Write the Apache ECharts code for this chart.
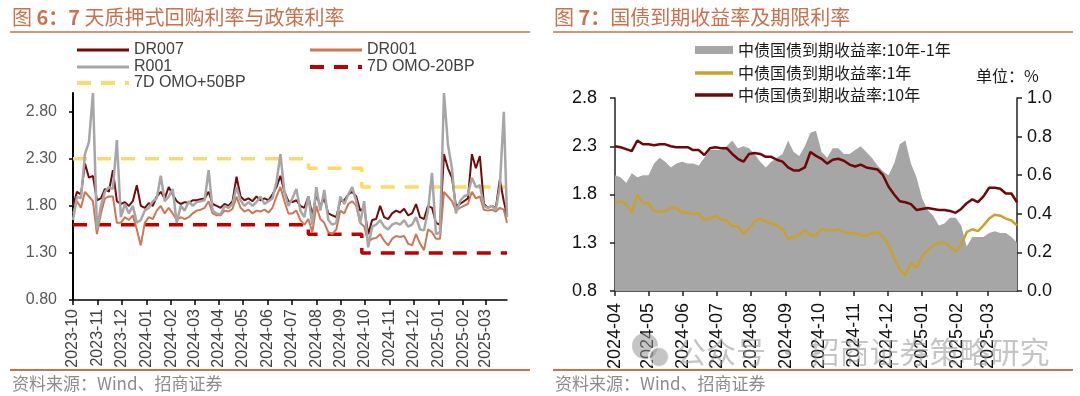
<!DOCTYPE html>
<html>
<head>
<meta charset="utf-8">
<script src="https://cdn.jsdelivr.net/npm/echarts@6/dist/echarts.min.js"></script>
<style>
html, body { margin: 0; padding: 0; background: #fff; }
#chart { width: 1080px; height: 396px; }
</style>
</head>
<body>
<div id="chart"></div>
<script>
// ---- 图6：回购利率 (每5天取一个点，最后一点为2025-03-28)
var leftStart = '2023-10-01';
var leftStepDays = 5;
var leftEnd = '2025-03-28';
var dr007 = [1.80,1.95,1.92,2.25,2.10,2.12,1.86,1.88,1.98,1.95,
  2.18,1.85,1.82,1.84,1.80,1.85,2.02,1.80,1.78,1.83,
  1.80,1.90,1.95,1.88,2.00,1.92,1.85,1.82,1.84,1.83,
  1.86,1.86,1.87,1.88,1.95,1.82,1.80,1.78,1.82,1.80,
  1.85,2.11,1.90,1.86,1.88,1.85,1.90,1.86,1.88,1.86,
  1.92,2.00,2.12,1.95,1.85,1.84,1.86,1.80,1.78,1.90,
  1.70,1.92,1.80,1.88,1.72,1.70,1.68,1.85,1.86,1.92,
  1.95,1.90,1.75,1.78,1.50,1.65,1.66,1.80,1.68,1.66,
  1.72,1.75,1.73,1.77,1.70,1.72,1.82,1.68,1.66,1.80,
  1.78,1.62,1.60,2.35,2.20,2.10,1.80,1.82,1.85,1.88,
  2.35,2.20,2.33,1.82,1.78,1.80,1.78,2.08,1.85,1.70];
var dr001 = [1.72,1.85,1.78,1.95,1.90,1.85,1.50,1.72,1.88,1.90,
  1.90,1.62,1.62,1.68,1.65,1.70,1.55,1.38,1.62,1.68,
  1.66,1.75,1.80,1.72,1.78,1.72,1.65,1.68,1.66,1.68,
  1.72,1.75,1.76,1.78,1.85,1.72,1.70,1.70,1.75,1.74,
  1.77,1.90,1.78,1.74,1.76,1.72,1.75,1.74,1.76,1.73,
  1.78,1.90,2.00,1.85,1.72,1.72,1.75,1.65,1.60,1.66,
  1.52,1.80,1.66,1.62,1.52,1.50,1.55,1.75,1.72,1.82,
  1.85,1.80,1.62,1.58,1.42,1.45,1.46,1.50,1.43,1.38,
  1.45,1.48,1.47,1.48,1.40,1.38,1.50,1.40,1.33,1.55,
  1.52,1.45,1.45,1.95,1.90,1.85,1.75,1.78,1.80,1.82,
  1.95,1.88,1.90,1.76,1.75,1.76,1.74,1.78,1.76,1.62];
var r001 = [1.65,1.90,1.88,2.35,2.48,3.00,1.55,1.80,1.95,2.00,
  1.98,2.50,1.68,1.82,1.72,1.80,1.62,1.65,1.75,1.78,
  1.85,1.88,2.12,1.85,1.90,1.98,1.62,1.80,1.75,1.85,
  1.80,1.84,1.85,1.86,2.18,1.75,1.72,1.71,1.80,1.78,
  1.82,2.00,1.86,1.80,1.84,1.80,1.84,1.90,1.82,1.85,
  1.88,2.05,2.35,1.95,1.80,1.88,1.98,1.75,1.68,1.90,
  1.60,2.00,1.75,1.97,1.65,1.60,1.62,1.90,1.82,1.92,
  2.00,1.85,1.62,1.85,1.36,1.58,1.60,1.65,1.58,1.55,
  1.60,1.62,1.60,1.65,1.58,1.60,1.68,1.55,1.54,1.75,
  2.15,1.50,1.52,3.00,2.45,2.20,1.72,1.85,1.90,1.92,
  2.10,2.00,2.02,1.80,1.78,1.80,1.76,2.00,2.80,1.68];
var omoDates = ['2023-10-01', '2024-07-22', '2024-09-27', '2025-03-28'];
var omoMinus20 = [1.60, 1.50, 1.30, 1.30];
var omoPlus50 = [2.30, 2.20, 2.00, 2.00];
var leftMonths = ['2023-10','2023-11','2023-12','2024-01','2024-02','2024-03','2024-04','2024-05','2024-06',
  '2024-07','2024-08','2024-09','2024-10','2024-11','2024-12','2025-01','2025-02','2025-03'];
var leftYTicks = [0.8, 1.3, 1.8, 2.3, 2.8];

// ---- 图7：国债收益率 (每5天取一个点)
var rightStart = '2024-04-01';
var rightStepDays = 5;
var spread10y1y = [0.60,0.59,0.56,0.61,0.59,0.60,0.60,0.66,0.69,0.67,
  0.64,0.66,0.67,0.66,0.66,0.65,0.69,0.73,0.73,0.73,
  0.75,0.78,0.74,0.75,0.74,0.71,0.67,0.64,0.67,0.69,
  0.71,0.78,0.72,0.70,0.75,0.82,0.83,0.72,0.69,0.74,
  0.74,0.71,0.71,0.73,0.75,0.72,0.69,0.65,0.62,0.60,
  0.66,0.76,0.78,0.66,0.59,0.48,0.42,0.39,0.34,0.35,
  0.38,0.38,0.34,0.23,0.28,0.28,0.28,0.30,0.31,0.30,
  0.30,0.28,0.25];
var cgb1y = [1.71,1.73,1.70,1.61,1.80,1.71,1.71,1.63,1.62,1.63,
  1.66,1.66,1.61,1.61,1.60,1.60,1.54,1.55,1.58,1.54,
  1.53,1.47,1.47,1.39,1.45,1.52,1.55,1.52,1.50,1.48,
  1.44,1.34,1.36,1.38,1.43,1.38,1.38,1.44,1.43,1.43,
  1.44,1.41,1.40,1.40,1.38,1.37,1.40,1.41,1.36,1.28,
  1.14,1.02,0.96,1.09,1.04,1.16,1.22,1.27,1.30,1.30,
  1.26,1.21,1.28,1.41,1.44,1.42,1.48,1.55,1.59,1.58,
  1.55,1.53,1.48];
var cgb10y = [2.30,2.29,2.27,2.25,2.36,2.32,2.32,2.31,2.32,2.32,
  2.30,2.29,2.29,2.29,2.26,2.26,2.21,2.28,2.29,2.28,
  2.28,2.22,2.17,2.14,2.22,2.23,2.22,2.19,2.19,2.16,
  2.14,2.08,2.05,2.05,2.08,2.24,2.20,2.17,2.12,2.16,
  2.17,2.15,2.11,2.09,2.11,2.08,2.07,2.06,2.00,1.88,
  1.80,1.73,1.72,1.70,1.64,1.65,1.66,1.65,1.64,1.64,
  1.63,1.61,1.65,1.71,1.75,1.72,1.78,1.87,1.87,1.86,
  1.81,1.81,1.72];
var rightMonths = ['2024-04','2024-05','2024-06','2024-07','2024-08','2024-09',
  '2024-10','2024-11','2024-12','2025-01','2025-02','2025-03'];

var FONT = '"Liberation Sans", Arial, "Noto Sans CJK SC", sans-serif';
var CJK = '"Noto Sans CJK SC", "Liberation Sans", sans-serif';
var ORANGE = '#c8714e';

// 图例图标：实线 / 虚线
var ICON_SOLID = 'rect';
var ICON_DASH = 'path://M0,0h14v4h-14zM24,0h14v4h-14zM48,0h4v4h-4z';

function day(str) {
  var p = str.split('-');
  return new Date(+p[0], +p[1] - 1, +(p[2] || 1)).getTime();
}
function stepDates(start, step, n) {
  var p = start.split('-'), out = [];
  for (var i = 0; i < n; i++) out.push(new Date(+p[0], +p[1] - 1, +p[2] + i * step).getTime());
  return out;
}
function zip(xs, ys) { return ys.map(function (v, i) { return [xs[i], v]; }); }
function monthLabel(v) {
  var d = new Date(v), m = d.getMonth() + 1;
  return d.getFullYear() + '-' + (m < 10 ? '0' + m : m);
}

var leftDates = stepDates(leftStart, leftStepDays, dr007.length - 1).concat([day(leftEnd)]);
var rightDates = stepDates(rightStart, rightStepDays, cgb10y.length);
var omoTimes = omoDates.map(day);
var leftTickTimes = leftMonths.map(day);
var rightTickTimes = rightMonths.map(day);

var chart = echarts.init(document.getElementById('chart'));

var leftLegendText = { fontSize: 16, color: '#404040', fontFamily: FONT };
var rightLegendText = { fontSize: 16, color: '#1a1a1a', fontFamily: CJK };

function leg(name, icon, left, top, w, h, text) {
  return { data: [{ name: name, icon: icon }], left: left, top: top, itemWidth: w, itemHeight: h,
    selectedMode: false, textStyle: text };
}

var option = {
  animation: false,
  backgroundColor: '#fff',
  grid: [
    { left: 73, top: 93, width: 434, height: 207 },
    { left: 615, top: 98, width: 402, height: 193 }
  ],
  legend: [
    leg('DR007', ICON_SOLID, 72, 37, 52, 3, leftLegendText),
    leg('DR001', ICON_SOLID, 305, 37, 52, 3, leftLegendText),
    leg('R001', ICON_SOLID, 72, 54, 52, 3, leftLegendText),
    leg('7D OMO-20BP', ICON_DASH, 305, 54, 52, 4, leftLegendText),
    leg('7D OMO+50BP', ICON_DASH, 72, 70, 52, 4, leftLegendText),
    leg('中债国债到期收益率:10年-1年', 'rect', 690, 37, 38, 8, rightLegendText),
    leg('中债国债到期收益率:1年', ICON_SOLID, 690, 60, 38, 3.5, rightLegendText),
    leg('中债国债到期收益率:10年', ICON_SOLID, 690, 82, 38, 3.5, rightLegendText)
  ],
  xAxis: [
    {
      type: 'value', gridIndex: 0, min: day(leftStart), max: day(leftEnd),
      axisLine: { show: true, lineStyle: { color: '#000', width: 1.5 } },
      axisTick: { show: true, length: 5, customValues: leftTickTimes, lineStyle: { color: '#000', width: 1.5 } },
      axisLabel: { customValues: leftTickTimes, rotate: 90, margin: 9, formatter: monthLabel,
        fontSize: 16, color: '#404040', fontFamily: FONT },
      splitLine: { show: false }
    },
    {
      type: 'value', gridIndex: 1, min: day(rightStart), max: rightDates[rightDates.length - 1],
      axisLine: { show: true, lineStyle: { color: '#222', width: 1.5 } },
      axisTick: { show: true, length: 5, customValues: rightTickTimes, lineStyle: { color: '#222', width: 1.5 } },
      axisLabel: { customValues: rightTickTimes, rotate: 90, margin: 12, formatter: monthLabel,
        fontSize: 18, color: '#111', fontFamily: FONT },
      splitLine: { show: false }
    }
  ],
  yAxis: [
    {
      type: 'value', gridIndex: 0, min: 0.8, max: 3.0, interval: 0.5,
      axisLine: { show: true, lineStyle: { color: '#000', width: 2 } },
      axisTick: { show: true, length: 4, customValues: leftYTicks, lineStyle: { color: '#000', width: 1.5 } },
      axisLabel: { customValues: leftYTicks, margin: 16, fontSize: 16, color: '#595959', fontFamily: FONT,
        formatter: function (v) { return v.toFixed(2); } },
      splitLine: { show: false }
    },
    {
      type: 'value', gridIndex: 1, min: 0.8, max: 2.8, interval: 0.5,
      axisLine: { show: true, lineStyle: { color: '#222', width: 1.5 } },
      axisTick: { show: true, length: 5, lineStyle: { color: '#222', width: 1.5 } },
      axisLabel: { margin: 18, fontSize: 18, color: '#111', fontFamily: FONT,
        formatter: function (v) { return v.toFixed(1); } },
      splitLine: { show: false }
    },
    {
      type: 'value', gridIndex: 1, position: 'right', min: 0, max: 1.0, interval: 0.2,
      axisLine: { show: true, lineStyle: { color: '#222', width: 1.5 } },
      axisTick: { show: true, length: 5, lineStyle: { color: '#222', width: 1.5 } },
      axisLabel: { margin: 10, fontSize: 18, color: '#111', fontFamily: FONT,
        formatter: function (v) { return v.toFixed(1); } },
      splitLine: { show: false }
    }
  ],
  series: [
    { name: '7D OMO+50BP', type: 'line', xAxisIndex: 0, yAxisIndex: 0, step: 'end', symbol: 'none',
      data: zip(omoTimes, omoPlus50), lineStyle: { color: '#ffd966', width: 3.5, type: [14, 10] }, itemStyle: { color: '#ffd966' } },
    { name: '7D OMO-20BP', type: 'line', xAxisIndex: 0, yAxisIndex: 0, step: 'end', symbol: 'none',
      data: zip(omoTimes, omoMinus20), lineStyle: { color: '#c00000', width: 3.5, type: [14, 10] }, itemStyle: { color: '#c00000' } },
    { name: 'DR001', type: 'line', xAxisIndex: 0, yAxisIndex: 0, symbol: 'none',
      data: zip(leftDates, dr001), lineStyle: { color: '#cc7755', width: 2 }, itemStyle: { color: '#cc7755' } },
    { name: 'DR007', type: 'line', xAxisIndex: 0, yAxisIndex: 0, symbol: 'none',
      data: zip(leftDates, dr007), lineStyle: { color: '#720a0a', width: 2 }, itemStyle: { color: '#720a0a' } },
    { name: 'R001', type: 'line', xAxisIndex: 0, yAxisIndex: 0, symbol: 'none',
      data: zip(leftDates, r001), lineStyle: { color: '#a6a6a6', width: 2.5 }, itemStyle: { color: '#a6a6a6' } },

    { name: '中债国债到期收益率:10年-1年', type: 'line', xAxisIndex: 1, yAxisIndex: 2, symbol: 'none',
      data: zip(rightDates, spread10y1y), lineStyle: { width: 0 }, itemStyle: { color: '#a6a6a6' },
      areaStyle: { color: '#a6a6a6', opacity: 1 } },
    { name: '中债国债到期收益率:1年', type: 'line', xAxisIndex: 1, yAxisIndex: 1, symbol: 'none',
      data: zip(rightDates, cgb1y), lineStyle: { color: '#c9a032', width: 2.5 }, itemStyle: { color: '#c9a032' } },
    { name: '中债国债到期收益率:10年', type: 'line', xAxisIndex: 1, yAxisIndex: 1, symbol: 'none',
      data: zip(rightDates, cgb10y), lineStyle: { color: '#6e0808', width: 2.5 }, itemStyle: { color: '#6e0808' } }
  ],
  graphic: [
    { type: 'text', x: 12, y: 17, style: { text: '{n|图 }{b|6：7 }{n|天质押式回购利率与政策利率}', verticalAlign: 'middle',
      rich: { n: { fontSize: 20, fill: ORANGE, fontFamily: CJK }, b: { fontSize: 20, fill: ORANGE, fontFamily: CJK, fontWeight: 'bold' } } } },
    { type: 'text', x: 554, y: 17, style: { text: '{n|图 }{b|7：}{n|国债到期收益率及期限利率}', verticalAlign: 'middle',
      rich: { n: { fontSize: 20, fill: ORANGE, fontFamily: CJK }, b: { fontSize: 20, fill: ORANGE, fontFamily: CJK, fontWeight: 'bold' } } } },
    { type: 'line', shape: { x1: 10, y1: 32, x2: 530, y2: 32 }, style: { stroke: ORANGE, lineWidth: 1.5 } },
    { type: 'line', shape: { x1: 553, y1: 32, x2: 1073, y2: 32 }, style: { stroke: ORANGE, lineWidth: 1.5 } },
    { type: 'line', shape: { x1: 10, y1: 370, x2: 530, y2: 370 }, style: { stroke: ORANGE, lineWidth: 2 } },
    { type: 'line', shape: { x1: 553, y1: 370, x2: 1073, y2: 370 }, style: { stroke: ORANGE, lineWidth: 2 } },
    { type: 'text', x: 12, y: 384, style: { text: '资料来源：Wind、招商证券', fontSize: 17, fill: '#8c8c8c', fontFamily: CJK, verticalAlign: 'middle' } },
    { type: 'text', x: 555, y: 384, style: { text: '资料来源：Wind、招商证券', fontSize: 17, fill: '#8c8c8c', fontFamily: CJK, verticalAlign: 'middle' } },
    { type: 'text', x: 976, y: 76, style: { text: '单位：%', fontSize: 16, fill: '#1a1a1a', fontFamily: CJK, verticalAlign: 'middle' } },
    // 水印
    { type: 'circle', z: 100, shape: { cx: 645, cy: 346, r: 13 }, style: { fill: 'rgba(150,150,150,0.55)' } },
    { type: 'circle', z: 101, shape: { cx: 659, cy: 357, r: 10 }, style: { fill: 'rgba(150,150,150,0.55)', stroke: 'rgba(255,255,255,0.8)', lineWidth: 2 } },
    { type: 'text', z: 102, x: 676, y: 352, style: { text: '公众号 · 招商证券策略研究', fontSize: 30, fill: 'rgba(150,150,150,0.55)', fontFamily: CJK, verticalAlign: 'middle' } }
  ]
};
chart.setOption(option);
</script>
</body>
</html>
